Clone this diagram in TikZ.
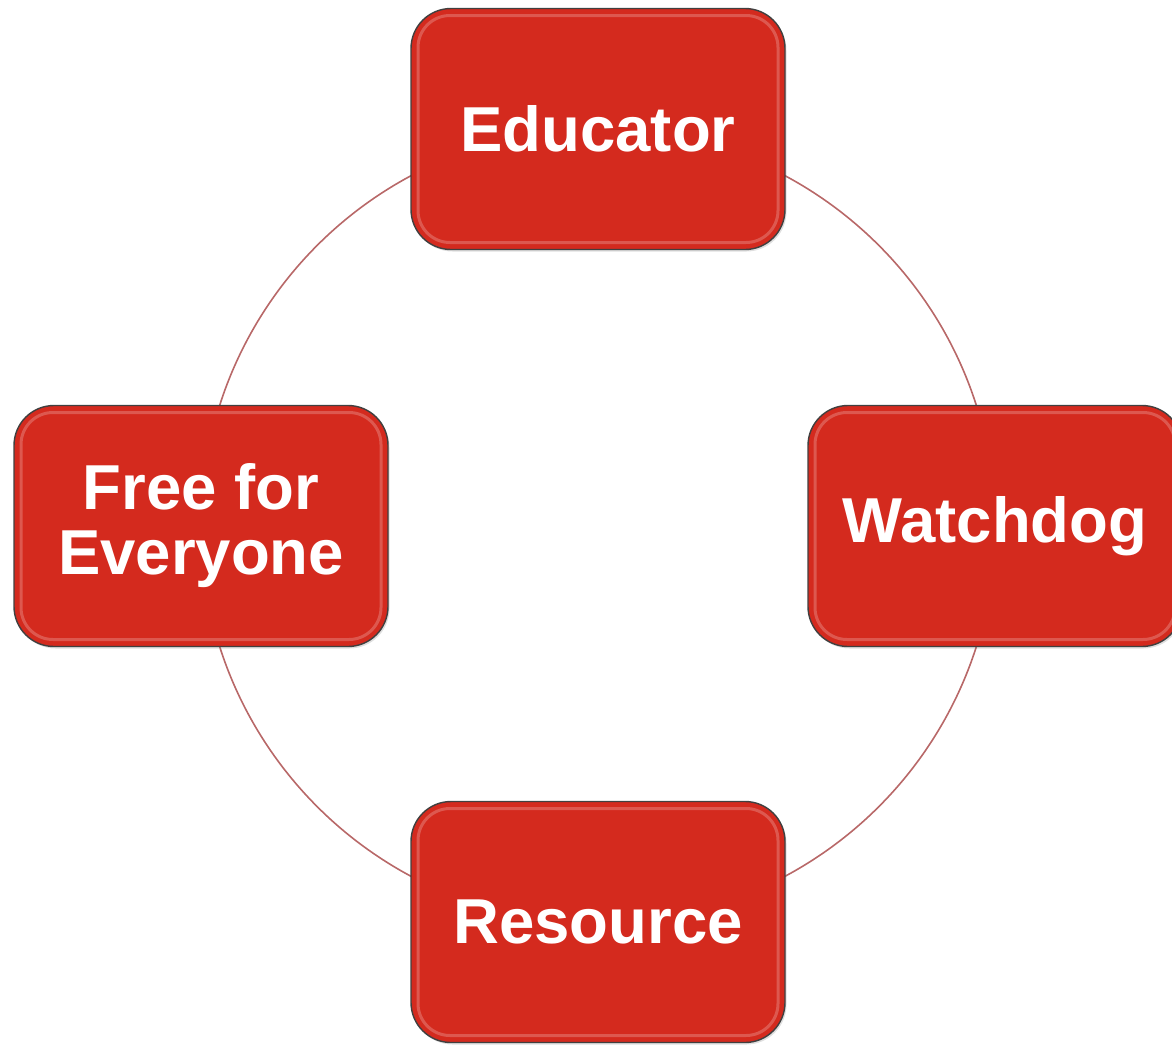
\documentclass[tikz,border=0pt]{standalone}
\usepackage{fontspec}
\setmainfont{Liberation Sans}
\usetikzlibrary{positioning, calc, shadows}

\definecolor{boxred}{RGB}{212,42,30}
\definecolor{ringred}{RGB}{184,104,104}

\begin{document}
\begin{tikzpicture}[x=1pt, y=-1pt,
    rolebox/.style={draw=black!75, line width=1.4pt, fill=boxred,
        rounded corners=40pt, minimum width=374pt, minimum height=241pt,
        inner sep=0pt, align=center, text=white,
        font=\fontsize{63.5}{65}\selectfont\bfseries,
        drop shadow={opacity=0.25, shadow xshift=1.5pt, shadow yshift=-2pt},
        path picture={
            \draw[white, opacity=0.22, line width=3pt, rounded corners=32pt]
                ($(path picture bounding box.south west)+(7pt,7pt)$) rectangle
                ($(path picture bounding box.north east)+(-7pt,-7pt)$);
        }},
    ring/.style={draw=ringred, line width=1.6pt}]
    \useasboundingbox (0,0) rectangle (1172,1044);

    % circle behind the four roles
    \coordinate (hub) at (598,526);
    \draw[ring] (hub) circle[radius=397pt];

    \node[rolebox] (educator) at ($(hub)+(0,-397)$) {Educator};
    \node[rolebox] (watchdog) at ($(hub)+(397,0)$) {Watchdog};
    \node[rolebox] (resource) at ($(hub)+(0,396)$) {Resource};
    \node[rolebox] (free) at ($(hub)+(-397,0)$) {Free for\\Everyone};
\end{tikzpicture}
\end{document}
